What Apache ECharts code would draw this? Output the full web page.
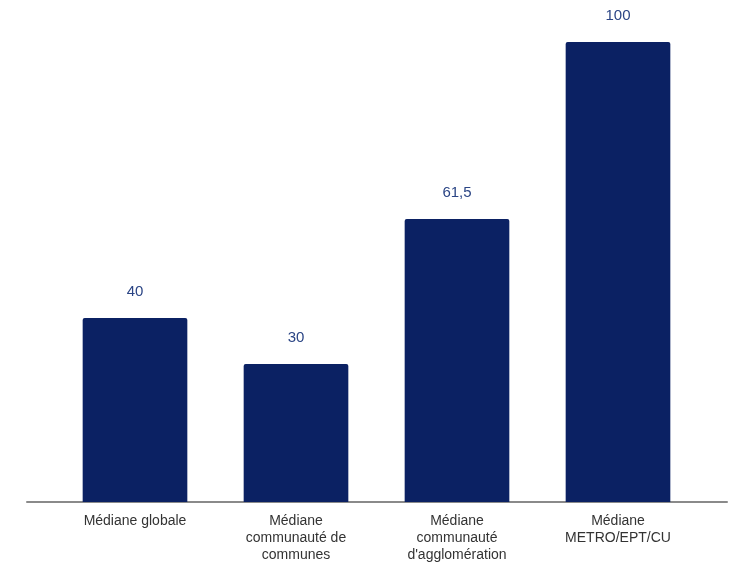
<!DOCTYPE html>
<html>
<head>
<meta charset="utf-8">
<script src="https://cdn.jsdelivr.net/npm/echarts@6/dist/echarts.min.js"></script>
<style>
  html, body { margin: 0; padding: 0; background: #fff; }
  #main { width: 734px; height: 567px; }
</style>
</head>
<body>
<div id="main"></div>
<script>
// données
var categories = [
  'Médiane globale',
  'Médiane\ncommunauté de\ncommunes',
  'Médiane\ncommunauté\nd\'agglomération',
  'Médiane\nMETRO/EPT/CU'
];
var values = [40, 30, 61.5, 100];

var barColor = '#0b2163';
var labelColor = '#2b4585';

var chart = echarts.init(document.getElementById('main'));

chart.setOption({
  animation: false,
  grid: [
    { left: 54.5, right: 35.5, top: 42, bottom: 65 },
    // grille plus large, seulement pour la ligne d'axe
    { left: 27, right: 7, top: 42, bottom: 65 }
  ],
  xAxis: [
    {
      type: 'category',
      data: categories,
      axisLine: { show: false },
      axisTick: { show: false },
      axisLabel: {
        interval: 0,
        margin: 11,
        color: '#333',
        fontFamily: 'Liberation Sans, Arial, sans-serif',
        fontSize: 14,
        lineHeight: 17
      }
    },
    {
      type: 'category',
      gridIndex: 1,
      data: [''],
      axisLine: { show: true, lineStyle: { color: '#8a8a8a', width: 2 } },
      axisTick: { show: false },
      axisLabel: { show: false }
    }
  ],
  yAxis: [
    { type: 'value', min: 0, max: 100, show: false },
    { type: 'value', gridIndex: 1, min: 0, max: 100, show: false }
  ],
  series: [
    {
      type: 'bar',
      data: values,
      barWidth: '65%',
      itemStyle: { color: barColor, borderRadius: [2, 2, 0, 0] },
      label: {
        show: true,
        position: 'top',
        distance: 19,
        color: labelColor,
        fontFamily: 'Liberation Sans, Arial, sans-serif',
        fontSize: 15,
        formatter: function (p) {
          return String(p.value).replace('.', ',');
        }
      }
    }
  ]
});
</script>
</body>
</html>
